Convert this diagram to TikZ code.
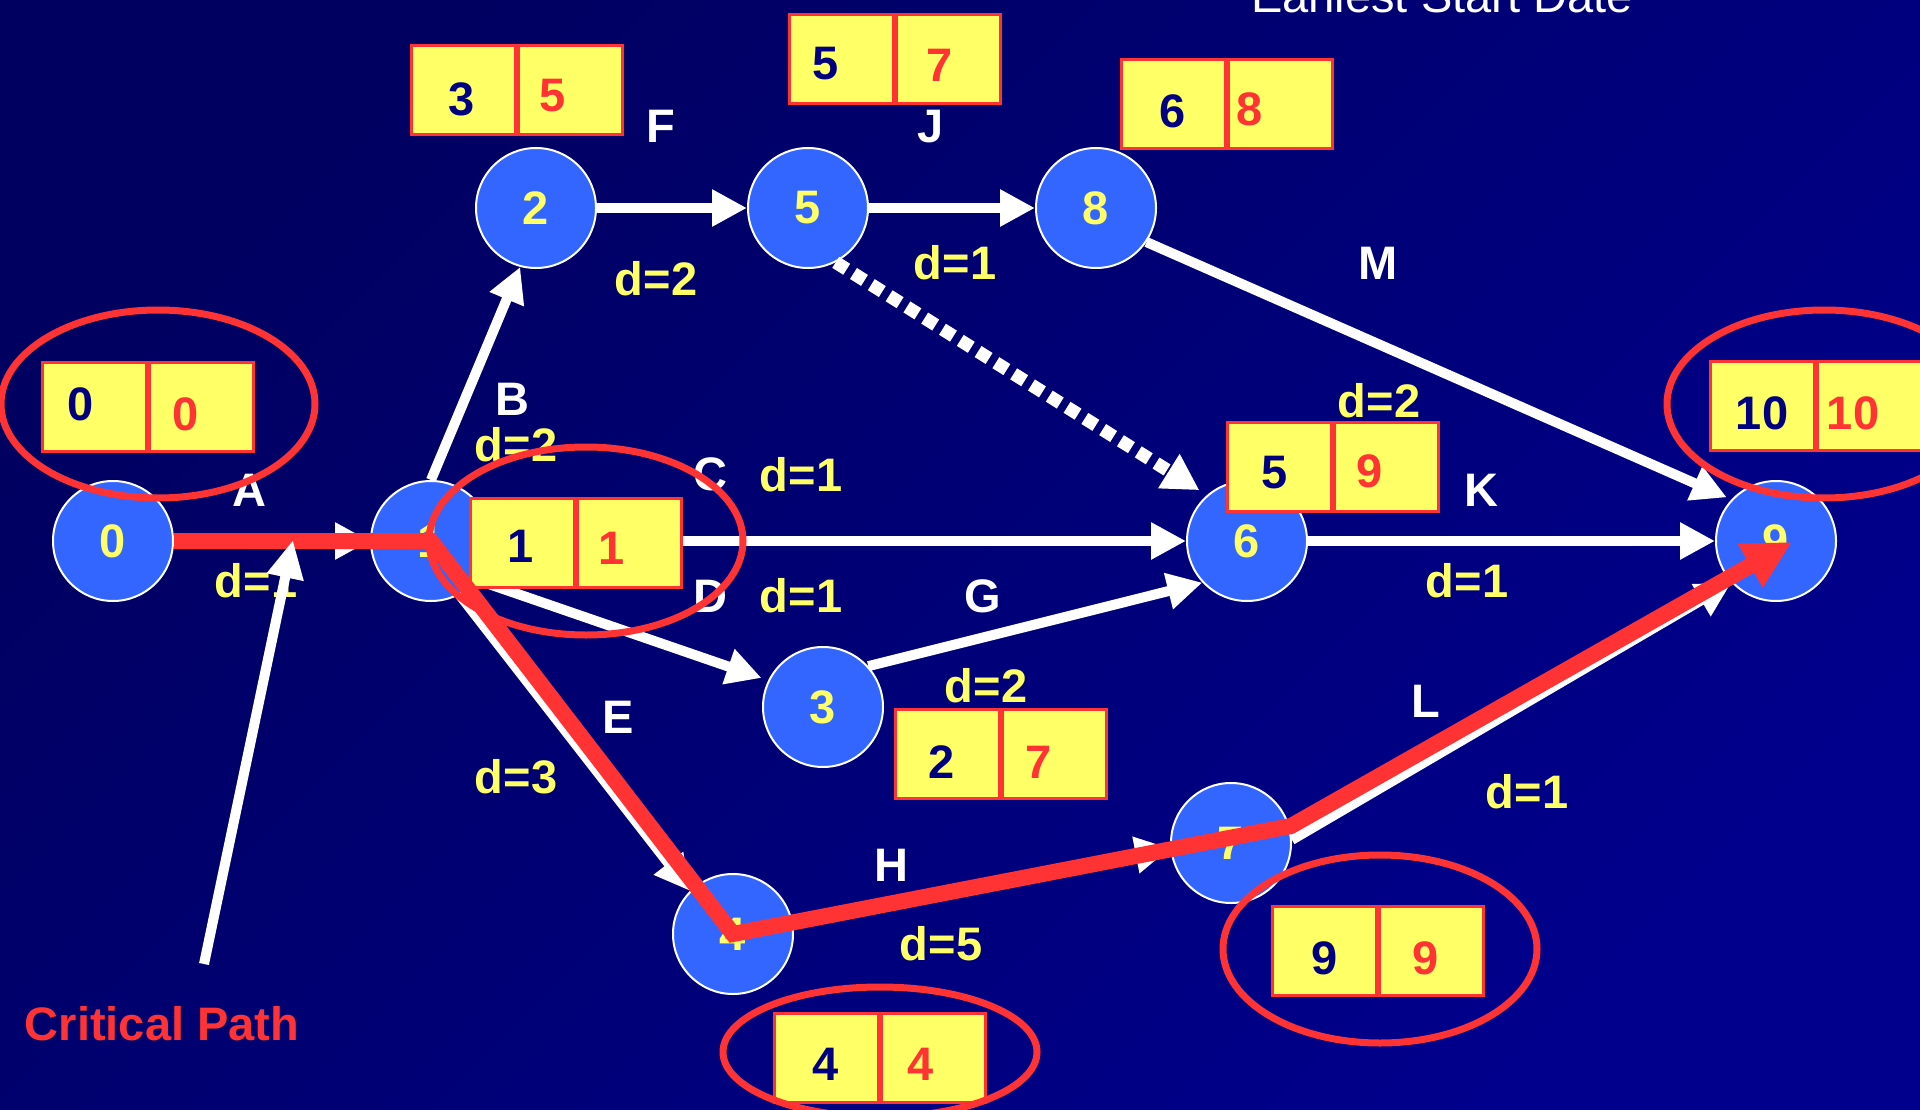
\documentclass[tikz,border=0pt]{standalone}
\usepackage{fontspec}
\setmainfont{Liberation Sans}
\usetikzlibrary{arrows.meta,shapes.geometric}
\definecolor{bgdark}{RGB}{0,0,96}
\definecolor{bglight}{RGB}{0,0,140}
\definecolor{evblue}{RGB}{51,102,255}
\definecolor{labyellow}{RGB}{255,255,102}
\definecolor{critred}{RGB}{255,51,51}
\definecolor{digblue}{RGB}{0,0,128}
\begin{document}
\begin{tikzpicture}[x=1pt,y=-1pt,
  bigfont/.style={font=\fontsize{47}{56}\selectfont\bfseries},
  evt/.style={circle, minimum size=120pt, inner sep=0pt, fill=evblue, draw=white, line width=2pt, text=labyellow, bigfont},
  act/.style={inner sep=0pt, text=white, bigfont},
  dur/.style={inner sep=0pt, text=labyellow, bigfont},
  cellbox/.style={rectangle, anchor=north west, minimum height=89pt, minimum width=104pt, inner sep=0pt, fill=labyellow, draw=critred, line width=3pt},
  esd/.style={inner sep=0pt, text=digblue, bigfont},
  lsd/.style={inner sep=0pt, text=critred, bigfont},
  ring/.style={ellipse, draw=critred, line width=7pt, minimum width=314pt, minimum height=188pt, inner sep=0pt},
  wire/.style={draw=white, line width=10pt, -{Triangle[length=35pt,width=35pt]}},
  dummy/.style={draw=white, line width=13pt, dash pattern=on 13pt off 8pt, -{Triangle[length=36pt,width=38pt]}},
  crit/.style={draw=critred, line width=16pt, -{Triangle[length=48pt,width=47pt]}},
  pointer/.style={draw=white, line width=10pt, -{Triangle[length=38pt,width=35pt]}},
]
\useasboundingbox (0,0) rectangle (1920,1110);
\clip (0,0) rectangle (1920,1110);
\shade[top color=bgdark, bottom color=bglight, shading angle=45] (-10,-10) rectangle (1930,1120);

% title (cut at top)
\node[inner sep=0pt, anchor=base, text=white, font=\fontsize{47}{56}\selectfont] (title) at (1442,13) {Earliest Start Date};

% activity labels
\node[act] (lA) at (249,490) {A};
\node[dur] (dA) at (256,581) {d=1};
\node[act] (lB) at (512,399) {B};
\node[dur] (dB) at (516,445) {d=2};
\node[act] (lF) at (661,126) {F};
\node[dur] (dF) at (656,279) {d=2};
\node[act] (lJ) at (931,127) {J};
\node[dur] (dJ) at (955,263) {d=1};
\node[act] (lM) at (1378,263) {M};
\node[dur] (dM) at (1379,401) {d=2};
\node[act] (lC) at (710,474) {C};
\node[dur] (dC) at (801,475) {d=1};
\node[act] (lD) at (710,596) {D};
\node[dur] (dD) at (801,596) {d=1};
\node[act] (lG) at (983,596) {G};
\node[dur] (dG) at (986,686) {d=2};
\node[act] (lK) at (1481,490) {K};
\node[dur] (dK) at (1467,581) {d=1};
\node[act] (lE) at (618,717) {E};
\node[dur] (dE) at (516,777) {d=3};
\node[act] (lH) at (891,865) {H};
\node[dur] (dH) at (941,944) {d=5};
\node[act] (lL) at (1426,701) {L};
\node[dur] (dL) at (1527,792) {d=1};
\node[inner sep=0pt, text=critred, bigfont] (cptext) at (162,1024) {Critical Path};

% events
\node[evt] (n0) at (113,541) {0};
\node[evt] (n1) at (431,541) {1};
\node[evt] (n2) at (536,208) {2};
\node[evt] (n5) at (808,208) {5};
\node[evt] (n8) at (1096,208) {8};
\node[evt] (n6) at (1247,541) {6};
\node[evt] (n9) at (1776,541) {9};
\node[evt] (n3) at (823,707) {3};
\node[evt] (n4) at (733,934) {4};
\node[evt] (n7) at (1231,843) {7};

% activities
\draw[wire] (n0.east) -- (n1.west);
\draw[wire] (n1.north) -- (n2.-105);
\draw[wire] (n2.east) -- (n5.west);
\draw[wire] (n5.east) -- (n8.west);
\draw[wire, shorten >=5pt] (n8.-34) -- (n9.137);
\draw[dummy, shorten >=9pt] (n5.-63) -- (n6.131);
\draw[wire] (n1.east) -- (n6.west);
\draw[wire] (n6.east) -- (n9.west);
\draw[wire, shorten >=7pt] (n1.-40) -- (n3.154);
\draw[wire] (n3.42) -- (n6.-137);
\draw[wire] (n1.-62) -- (n4.135);
\draw[wire] (n4.12) -- (n7.185);
\draw[wire] (n7.3) -- (n9.-137);

% date boxes
\node[cellbox] (b0a) at (41,361) {};
\node[cellbox] (b0b) at (b0a.north east) {};
\node[esd] (b0e) at (81,404) {0};
\node[lsd] (b0l) at (186,414) {0};

\node[cellbox] (b1a) at (469,497) {};
\node[cellbox] (b1b) at (b1a.north east) {};
\node[esd] (b1e) at (521,546) {1};
\node[lsd] (b1l) at (612,548) {1};

\node[cellbox] (b2a) at (410,44) {};
\node[cellbox] (b2b) at (b2a.north east) {};
\node[esd] (b2e) at (462,99) {3};
\node[lsd] (b2l) at (553,96) {5};

\node[cellbox] (b5a) at (788,13) {};
\node[cellbox] (b5b) at (b5a.north east) {};
\node[esd] (b5e) at (826,64) {5};
\node[lsd] (b5l) at (940,65) {7};

\node[cellbox] (b8a) at (1120,58) {};
\node[cellbox] (b8b) at (b8a.north east) {};
\node[esd] (b8e) at (1173,111) {6};
\node[lsd] (b8l) at (1250,109) {8};

\node[cellbox] (b6a) at (1226,421) {};
\node[cellbox] (b6b) at (b6a.north east) {};
\node[esd] (b6e) at (1275,473) {5};
\node[lsd] (b6l) at (1370,471) {9};

\node[cellbox] (b9a) at (1709,360) {};
\node[cellbox] (b9b) at (b9a.north east) {};
\node[esd] (b9e) at (1762,413) {10};
\node[lsd] (b9l) at (1853,413) {10};

\node[cellbox] (b3a) at (894,708) {};
\node[cellbox] (b3b) at (b3a.north east) {};
\node[esd] (b3e) at (942,762) {2};
\node[lsd] (b3l) at (1039,762) {7};

\node[cellbox] (b4a) at (773,1012) {};
\node[cellbox] (b4b) at (b4a.north east) {};
\node[esd] (b4e) at (826,1064) {4};
\node[lsd] (b4l) at (921,1064) {4};

\node[cellbox] (b7a) at (1271,905) {};
\node[cellbox] (b7b) at (b7a.north east) {};
\node[esd] (b7e) at (1325,958) {9};
\node[lsd] (b7l) at (1426,958) {9};

% critical path
\coordinate (bend) at (1291,826);
\coordinate (cpend) at (1792,542);
\draw[crit] (n0.east) -- (n1.center) -- (n4.center) -- (bend) -- (cpend);

% highlight rings
\node[ring] (r0) at (158,404) {};
\node[ring] (r1) at (586,541) {};
\node[ring] (r9) at (1824,404) {};
\node[ring] (r7) at (1380,949) {};
\node[ring, minimum height=130pt] (r4) at (880,1052) {};

% pointer
\coordinate (cpfoot) at (204,964);
\coordinate (cptip) at (293,540);
\draw[pointer] (cpfoot) -- (cptip);
\end{tikzpicture}
\end{document}
